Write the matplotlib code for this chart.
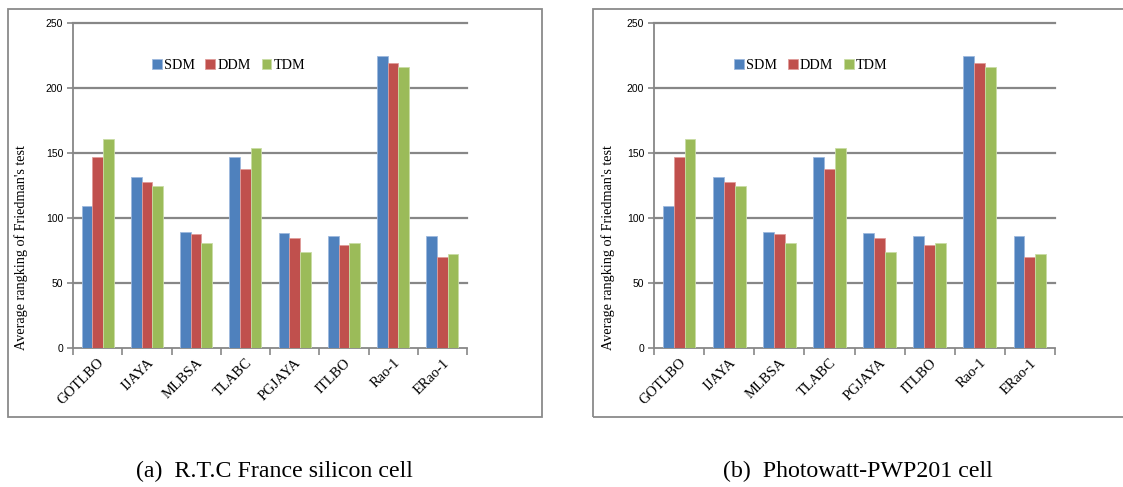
import matplotlib
matplotlib.use("Agg")
import matplotlib.pyplot as plt
import numpy as np
from matplotlib.patches import Rectangle

# average Friedman ranking per algorithm, for each diode model
algorithms = ["GOTLBO", "IJAYA", "MLBSA", "TLABC", "PGJAYA", "ITLBO", "Rao-1", "ERao-1"]
sdm = [109, 131.5, 89.5, 147, 88.5, 86, 224.5, 86]
ddm = [147, 128, 88, 137.7, 85, 79, 219.5, 70.3]
tdm = [161, 124.6, 80.5, 153.8, 73.8, 80.5, 216.4, 72.3]
series = {"SDM": sdm, "DDM": ddm, "TDM": tdm}
colors = {"SDM": "#4F81BD", "DDM": "#C0504D", "TDM": "#9BBB59"}
edges = {"SDM": "#9DB9DD", "DDM": "#E09C9A", "TDM": "#C9DDA4"}
yticks = [0, 50, 100, 150, 200, 250]
captions = ["(a)  R.T.C France silicon cell", "(b)  Photowatt-PWP201 cell"]

W, H = 1123, 487
fig = plt.figure(figsize=(W / 100, H / 100), dpi=100)
grid_c = "#878787"


def px_axes(x0, x1, y0, y1):
    return fig.add_axes([x0 / W, 1 - y1 / H, (x1 - x0) / W, (y1 - y0) / H])


def draw_panel(ax, caption, cx, lbl_x):
    n = len(algorithms)
    x = np.arange(n) + 0.5
    bw = 0.217
    for k, (name, vals) in enumerate(series.items()):
        ax.bar(x + (k - 1) * bw, vals, width=bw, color=colors[name],
               edgecolor=edges[name], linewidth=0.6, label=name, zorder=3)
    ax.set_xlim(0, n)
    ax.set_ylim(0, 250)
    for t in yticks[1:]:
        ax.axhline(t, color=grid_c, lw=1.6, zorder=1, clip_on=False)
    for s in ["top", "right"]:
        ax.spines[s].set_visible(False)
    for s in ["left", "bottom"]:
        ax.spines[s].set_color(grid_c)
        ax.spines[s].set_linewidth(1.3)
    ax.set_yticks(yticks)
    ax.set_yticklabels([str(t) for t in yticks], fontfamily="Liberation Sans", fontsize=7.5)
    ax.tick_params(axis="y", length=4, width=1.2, color=grid_c, pad=3)
    ax.set_xticks(np.arange(n + 1))
    ax.set_xticklabels([])
    ax.tick_params(axis="x", which="major", length=5, width=1.2, color=grid_c)
    ax.set_xticks(x, minor=True)
    ax.set_xticklabels(algorithms, minor=True, rotation=45, ha="right",
                       rotation_mode="anchor", fontfamily="Liberation Serif", fontsize=10.5)
    ax.tick_params(axis="x", which="minor", length=0, pad=6)
    ax.set_ylabel("Average rangking of Friedman's test", fontfamily="Liberation Serif",
                  fontsize=10.2)
    ax.yaxis.set_label_coords(lbl_x, 0.31)
    ax.legend(loc="center left", bbox_to_anchor=(0.2, 0.87), ncol=3, frameon=False,
              borderaxespad=0, borderpad=0,
              handlelength=0.7, handleheight=0.7, handletextpad=0.15, columnspacing=0.75,
              prop={"family": "Liberation Serif", "size": 10.2})
    fig.text(cx / W, 1 - 471 / H, caption, ha="center", va="center",
             fontfamily="Liberation Serif", fontsize=17.2)


# outer frames around each chart
for x0, x1 in [(8, 542), (593, 1126)]:
    fig.patches.append(Rectangle((x0 / W, 1 - 417 / H), (x1 - x0) / W, 408 / H,
                                 transform=fig.transFigure, fill=False,
                                 edgecolor="#8a8a8a", linewidth=1.3))

ax1 = px_axes(73, 467, 23, 348)
draw_panel(ax1, captions[0], 274, -0.114)
ax2 = px_axes(654, 1055, 23, 348)
draw_panel(ax2, captions[1], 858, -0.097)

fig.savefig("out.png", dpi=100)
